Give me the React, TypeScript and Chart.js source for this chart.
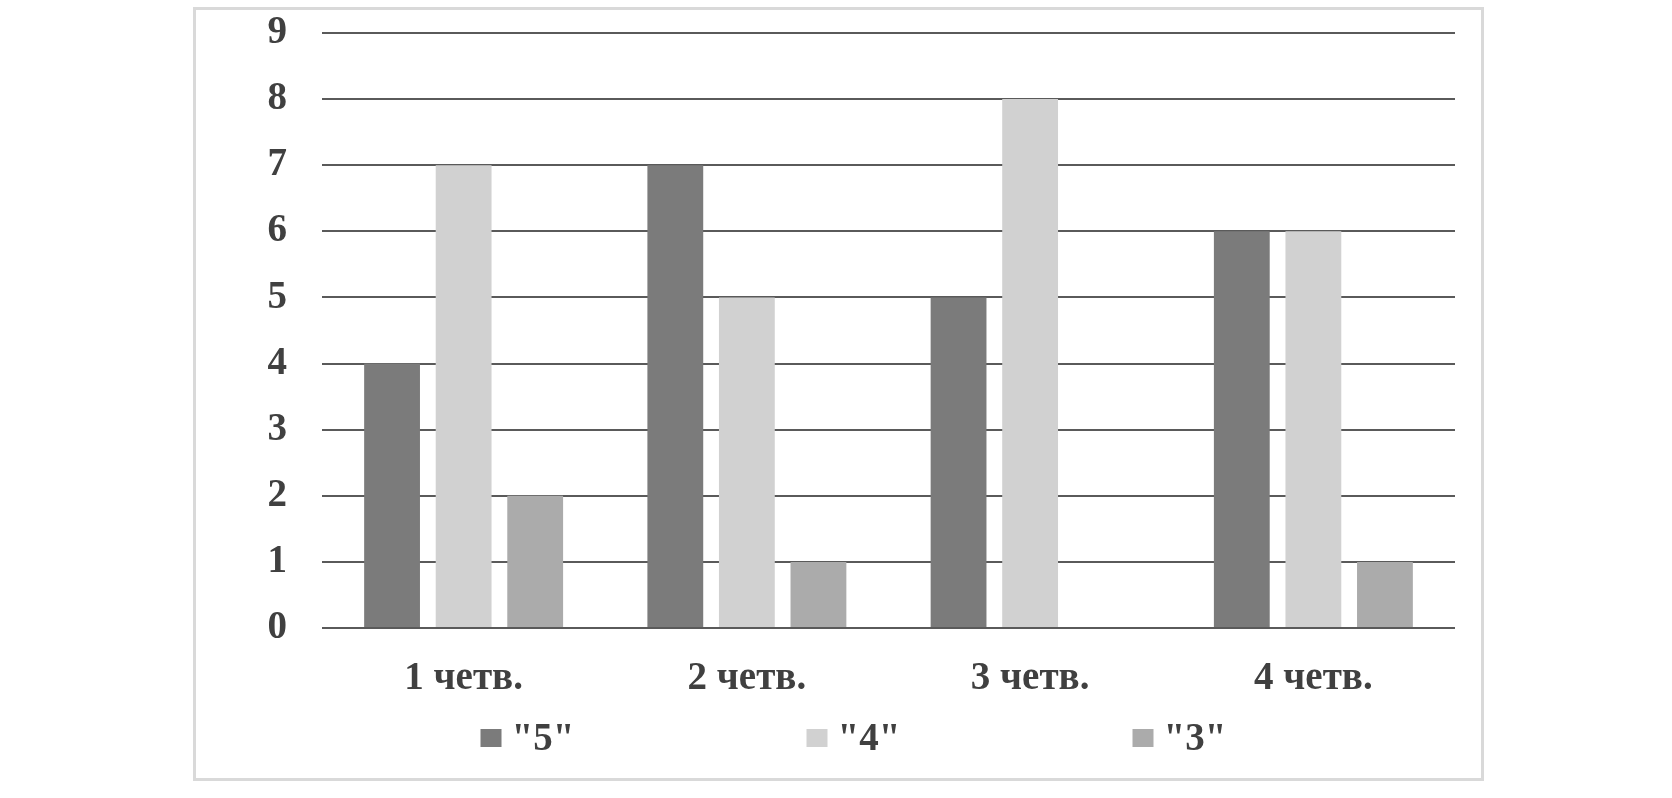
import React, { useEffect, useRef } from "react";
import { Chart, registerables } from "chart.js";

Chart.register(...registerables);

const categories = ["1 четв.", "2 четв.", "3 четв.", "4 четв."];
const seriesNames = ['"5"', '"4"', '"3"'];
const grade5 = [4, 7, 5, 6];
const grade4 = [7, 5, 8, 6];
const grade3 = [2, 1, 0, 1];
const seriesColors = ["#7b7b7b", "#d1d1d1", "#ababab"];
const yTicks = [0, 1, 2, 3, 4, 5, 6, 7, 8, 9];

const FONT = "'Liberation Serif', 'Times New Roman', serif";
const TEXT_COLOR = "#404040";

const legendPlugin = {
  id: "customLegend",
  afterDraw(chart: any) {
    const ctx = chart.ctx;
    const area = chart.chartArea;
    const datasets = chart.data.datasets;
    const n = datasets.length;
    const y = 728;
    const step = 326;
    const centerX = (area.left + area.right) / 2 - 20;
    ctx.save();
    ctx.font = `bold 39px ${FONT}`;
    ctx.textBaseline = "middle";
    ctx.textAlign = "left";
    datasets.forEach((ds: any, i: number) => {
      const x = centerX + (i - (n - 1) / 2) * step - 62;
      ctx.fillStyle = ds.backgroundColor;
      ctx.fillRect(x, y - 9, 21, 18);
      ctx.fillStyle = TEXT_COLOR;
      ctx.fillText(ds.label, x + 31, y + 2);
    });
    ctx.restore();
  },
};

export default function App() {
  const ref = useRef<HTMLCanvasElement | null>(null);
  useEffect(() => {
    if (!ref.current) return;
    const chart = new Chart(ref.current, {
      type: "bar",
      data: {
        labels: categories,
        datasets: [grade5, grade4, grade3].map((d, i) => ({
          label: seriesNames[i],
          data: d,
          backgroundColor: seriesColors[i],
          borderWidth: 0,
          categoryPercentage: 0.758,
          barPercentage: 0.78,
        })),
      },
      options: {
        animation: false,
        responsive: false,
        maintainAspectRatio: false,
        layout: { padding: { top: 0, right: 26, left: 0, bottom: 0 } },
        plugins: {
          legend: { display: false },
          tooltip: { enabled: false },
        },
        scales: {
          x: {
            grid: { display: false, drawTicks: false },
            border: { display: false },
            ticks: {
              color: TEXT_COLOR,
              font: { family: FONT, size: 39, weight: "bold" },
              padding: 28,
            },
            afterFit: (scale: any) => {
              scale.height = 150;
            },
          },
          y: {
            min: 0,
            max: 9,
            afterBuildTicks: (scale: any) => {
              scale.ticks = yTicks.map((v) => ({ value: v }));
            },
            grid: { color: "#5a5a5a", lineWidth: 2, drawTicks: false },
            border: { display: false },
            ticks: {
              color: TEXT_COLOR,
              font: { family: FONT, size: 39, weight: "bold" },
              padding: 35,
            },
            afterFit: (scale: any) => {
              scale.width = 126;
              scale.paddingTop = 23;
              scale.paddingBottom = 0;
            },
          },
        },
      },
      plugins: [legendPlugin],
    });
    return () => chart.destroy();
  }, []);
  return (
    <div
      style={{
        position: "absolute",
        left: 193,
        top: 7,
        width: 1291,
        height: 774,
        border: "3px solid #d9d9d9",
        boxSizing: "border-box",
        background: "#fff",
      }}
    >
      <canvas ref={ref} width={1285} height={768} style={{ display: "block" }} />
    </div>
  );
}
